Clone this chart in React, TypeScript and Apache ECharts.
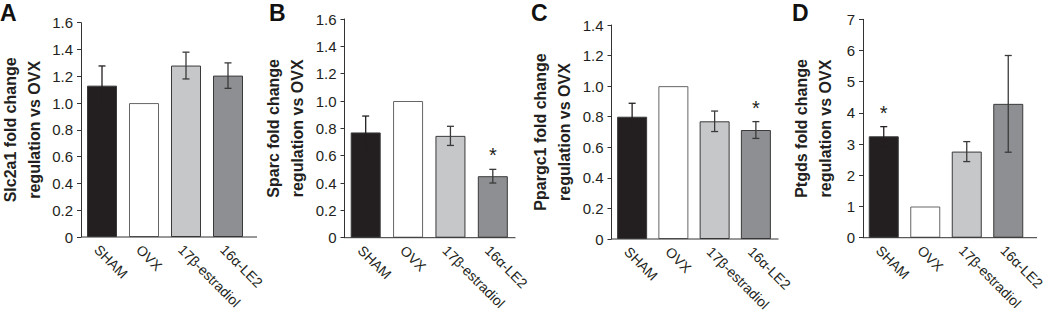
import React, { useEffect, useRef } from "react";
import * as echarts from "echarts";

const categories = ["SHAM", "OVX", "17β-estradiol", "16α-LE2"];
const barColors = ["#231f20", "#ffffff", "#c6c7c9", "#8e8f92"];
const errColors = ["#231f20", "#3a3a3a", "#3a3a3a", "#3a3a3a"];

const slc2a1Mean = [1.13, 1.0, 1.28, 1.205];
const slc2a1Err = [0.147, 0, 0.1, 0.095];
const slc2a1Star = [0, 0, 0, 0];

const sparcMean = [0.77, 1.0, 0.745, 0.45];
const sparcErr = [0.12, 0, 0.07, 0.05];
const sparcStar = [0, 0, 0, 1];

const ppargc1Mean = [0.8, 1.0, 0.77, 0.713];
const ppargc1Err = [0.088, 0, 0.067, 0.055];
const ppargc1Star = [0, 0, 0, 1];

const ptgdsMean = [3.25, 1.0, 2.76, 4.29];
const ptgdsErr = [0.31, 0, 0.32, 1.55];
const ptgdsStar = [1, 0, 0, 0];

const panelLetters = ["A", "B", "C", "D"];
const yTitles = [
  "Slc2a1 fold change\nregulation vs OVX",
  "Sparc fold change\nregulation vs OVX",
  "Ppargc1 fold change\nregulation vs OVX",
  "Ptgds fold change\nregulation vs OVX",
];
const yMax = [1.6, 1.6, 1.4, 7];
const yInterval = [0.2, 0.2, 0.2, 1];

const means = [slc2a1Mean, sparcMean, ppargc1Mean, ptgdsMean];
const errs = [slc2a1Err, sparcErr, ppargc1Err, ptgdsErr];
const stars = [slc2a1Star, sparcStar, ppargc1Star, ptgdsStar];

// layout (pixels)
const layout = [
  { left: 81, top: 22.7, width: 168, height: 214.3, axisLen: 176, letterX: 0, nameGap: 35 },
  { left: 344.5, top: 19, width: 169.5, height: 218.7, axisLen: 171, letterX: 269, nameGap: 35 },
  { left: 611.5, top: 25, width: 165, height: 214, axisLen: 167, letterX: 531, nameGap: 35 },
  { left: 863, top: 19.3, width: 166, height: 218.4, axisLen: 174, letterX: 792, nameGap: 26 },
];

const FONT = "'Liberation Sans', Arial, Helvetica, sans-serif";
const TEXT = "#231f20";
const AXIS = "#333333";

export default function App() {
  const ref = useRef<HTMLDivElement>(null);
  useEffect(() => {
    if (!ref.current) return;
    const chart = echarts.init(ref.current, undefined, { renderer: "svg" });

    const grid: any[] = [];
    const xAxis: any[] = [];
    const yAxis: any[] = [];
    const series: any[] = [];
    const graphic: any[] = [];

    layout.forEach((L, i) => {
      grid.push({
        left: L.left,
        top: L.top,
        width: L.width,
        height: L.height,
        containLabel: false,
        outerBoundsMode: "none",
      });
      xAxis.push({
        type: "category",
        gridIndex: i,
        data: categories,
        axisLine: { show: false },
        axisTick: { show: false },
        axisLabel: {
          rotate: -45,
          margin: 5,
          fontSize: 14,
          lineHeight: 15,
          fontFamily: FONT,
          color: TEXT,
          interval: 0,
          align: "left",
          verticalAlign: "top",
        },
      });
      yAxis.push({
        type: "value",
        gridIndex: i,
        min: 0,
        max: yMax[i],
        interval: yInterval[i],
        name: yTitles[i],
        nameLocation: "middle",
        nameRotate: 90,
        nameGap: L.nameGap,
        nameTextStyle: {
          fontSize: 16,
          fontWeight: "bold",
          fontFamily: FONT,
          color: TEXT,
          lineHeight: 24,
        },
        splitLine: { show: false },
        axisLine: { show: true, lineStyle: { color: AXIS, width: 1 } },
        axisTick: { show: true, length: 4, lineStyle: { color: AXIS } },
        axisLabel: {
          margin: 8,
          fontSize: 15,
          fontFamily: FONT,
          color: TEXT,
          formatter: (v: number) => (yInterval[i] < 1 && v !== 0 ? v.toFixed(1) : String(v)),
        },
      });
      series.push({
        type: "bar",
        xAxisIndex: i,
        yAxisIndex: i,
        barWidth: 30,
        data: means[i].map((v, k) => ({
          value: v,
          itemStyle: {
            color: barColors[k],
            borderColor: k === 1 ? "#666666" : "#3a3a3a",
            borderWidth: 1,
          },
        })),
      });
      series.push({
        type: "custom",
        xAxisIndex: i,
        yAxisIndex: i,
        z: 5,
        data: means[i].map((m, k) => [k, m - errs[i][k], m + errs[i][k], stars[i][k], errs[i][k]]),
        renderItem: (params: any, api: any) => {
          const x = api.value(0);
          const lo = api.value(1);
          const hi = api.value(2);
          const star = api.value(3);
          const e = api.value(4);
          const pLo = api.coord([x, lo]);
          const pHi = api.coord([x, hi]);
          const children: any[] = [];
          const st = { stroke: errColors[x], lineWidth: 1.3 };
          if (e > 0) {
            children.push({ type: "line", shape: { x1: pLo[0], y1: pLo[1], x2: pHi[0], y2: pHi[1] }, style: st });
            children.push({ type: "line", shape: { x1: pLo[0] - 3.5, y1: pLo[1], x2: pLo[0] + 3.5, y2: pLo[1] }, style: st });
            children.push({ type: "line", shape: { x1: pHi[0] - 3.5, y1: pHi[1], x2: pHi[0] + 3.5, y2: pHi[1] }, style: st });
          }
          if (star) {
            children.push({
              type: "text",
              style: {
                text: "*",
                x: pHi[0],
                y: pHi[1] - 4,
                align: "center",
                verticalAlign: "bottom",
                fontSize: 20,
                fontFamily: FONT,
                fill: TEXT,
              },
            });
          }
          return { type: "group", children };
        },
      });
      // x-axis baseline (extends slightly past last band)
      graphic.push({
        type: "line",
        shape: { x1: L.left, y1: L.top + L.height, x2: L.left + L.axisLen, y2: L.top + L.height },
        style: { stroke: AXIS, lineWidth: 1 },
        z: 10,
      });
      graphic.push({
        type: "text",
        left: L.letterX,
        top: 1,
        style: {
          text: panelLetters[i],
          fontSize: 23,
          fontWeight: "bold",
          fontFamily: FONT,
          fill: "#111111",
        },
      });
    });

    chart.setOption({
      animation: false,
      backgroundColor: "#ffffff",
      grid,
      xAxis,
      yAxis,
      series,
      graphic,
    });
    return () => chart.dispose();
  }, []);

  return (
    <div
      ref={ref}
      style={{ position: "fixed", left: 0, top: 0, width: 1050, height: 312 }}
    />
  );
}
